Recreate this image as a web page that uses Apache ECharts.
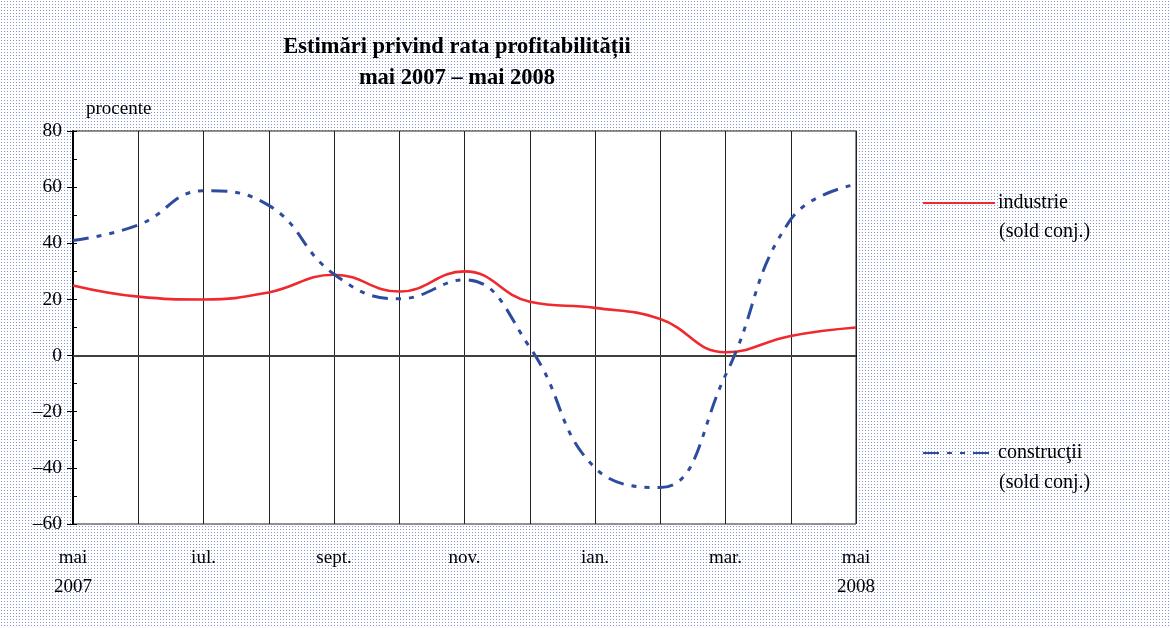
<!DOCTYPE html>
<html>
<head>
<meta charset="utf-8">
<script src="https://cdn.jsdelivr.net/npm/echarts@6/dist/echarts.min.js"></script>
<style>
html,body{margin:0;padding:0;}
#chart{width:1170px;height:628px;background-color:#fff;
background-image:radial-gradient(#8795d4 0.6px, transparent 0.75px);background-size:3px 3px;}
</style>
</head>
<body>
<div id="chart"></div>
<script>
var categories = ['mai 2007','iun. 2007','iul. 2007','aug. 2007','sept. 2007','oct. 2007','nov. 2007','dec. 2007','ian. 2008','feb. 2008','mar. 2008','apr. 2008','mai 2008'];
var tickLabels = ['mai\n2007','','iul.','','sept.','','nov.','','ian.','','mar.','','mai\n2008'];
var industrie = [25, 21, 20, 22.5, 28.8, 22.8, 30, 19.2, 17, 13, 1.2, 7, 10];
var constructii = [41, 46.5, 58.7, 53.5, 29, 20.2, 27, 3, -40, -47, -7, 48.5, 61];
var seriesNames = ['industrie', 'construcţii'];
var titleText = 'Estimări privind rata profitabilității\nmai 2007 – mai 2008';
var unitText = 'procente';
var legendSub = '(sold conj.)';

var FONT = '"Liberation Serif", "Times New Roman", serif';
var chart = echarts.init(document.getElementById('chart'), null, {renderer:'canvas'});
chart.setOption({
  backgroundColor: 'transparent',
  animation: false,
  title: {
    text: titleText,
    left: 457, top: 32, textAlign: 'center', padding: 0,
    textStyle: {fontFamily: FONT, fontWeight: 'bold', fontSize: 22.5, lineHeight: 31, color: '#000'}
  },
  graphic: [
    {type:'text', left: 86, top: 100, style:{text: unitText, font: '19px ' + FONT, fill:'#000'}},
    {type:'text', left: 999, top: 222, style:{text: legendSub, font: '20px ' + FONT, fill:'#000'}},
    {type:'text', left: 999, top: 473, style:{text: legendSub, font: '20px ' + FONT, fill:'#000'}}
  ],
  legend: [
    {data:[seriesNames[0]], left: 922, top: 193, padding: 0, itemWidth: 72, itemHeight: 20, itemGap: 0,
     itemStyle: {opacity: 0},
     textStyle:{fontFamily: FONT, fontSize: 20, color:'#000', padding: [0,0,0,-2]}},
    {data:[seriesNames[1]], left: 922, top: 443, padding: 0, itemWidth: 72, itemHeight: 20, itemGap: 0,
     itemStyle: {opacity: 0},
     textStyle:{fontFamily: FONT, fontSize: 20, color:'#000', padding: [0,0,0,-2]}}
  ],
  grid: {left: 73, top: 131, right: 314, bottom: 104, show: true, backgroundColor: '#fff',
         borderColor: '#222', borderWidth: 1},
  xAxis: {
    type: 'category', data: categories, boundaryGap: false,
    axisLine: {lineStyle: {color: '#000', width: 2}},
    axisTick: {show: false},
    splitLine: {show: true, interval: 0, lineStyle: {color: '#222', width: 1}},
    axisLabel: {interval: 0, margin: 20, fontFamily: FONT, fontSize: 19, lineHeight: 29, color: '#000',
      formatter: function(v, i){ return tickLabels[i]; }}
  },
  yAxis: [
    {type: 'value', min: -60, max: 80, interval: 20,
     axisLine: {show: true, lineStyle: {color: '#000', width: 2}},
     axisTick: {show: true, length: 6, lineStyle: {color: '#000'}},
     splitLine: {show: false},
     axisLabel: {margin: 11, fontFamily: FONT, fontSize: 19.5, color: '#000',
       formatter: function(v){ return String(v).replace('-', '–'); }}},
    {type: 'value', min: -60, max: 80, interval: 10, position: 'left',
     axisLine: {show: false}, axisLabel: {show: false}, splitLine: {show: false},
     axisTick: {show: true, inside: true, length: 4, lineStyle: {color: '#000'}}}
  ],
  series: [
    {name: seriesNames[0], type: 'line', data: industrie, smooth: 0.45, symbol: 'none',
     lineStyle: {color: '#ee2a2e', width: 2.6}, itemStyle: {color: '#ee2a2e'},
     markLine: {silent: true, symbol: 'none', label: {show: false},
       lineStyle: {color: '#555', width: 1.5, type: 'solid'}, data: [{yAxis: 0}]}},
    {name: seriesNames[1], type: 'line', data: constructii, smooth: 0.45, symbol: 'none',
     lineStyle: {color: '#2d4c9e', width: 3, type: [16, 8, 5, 8, 5, 8], cap: 'butt'},
     itemStyle: {color: '#2d4c9e'}}
  ]
});
</script>
</body>
</html>
